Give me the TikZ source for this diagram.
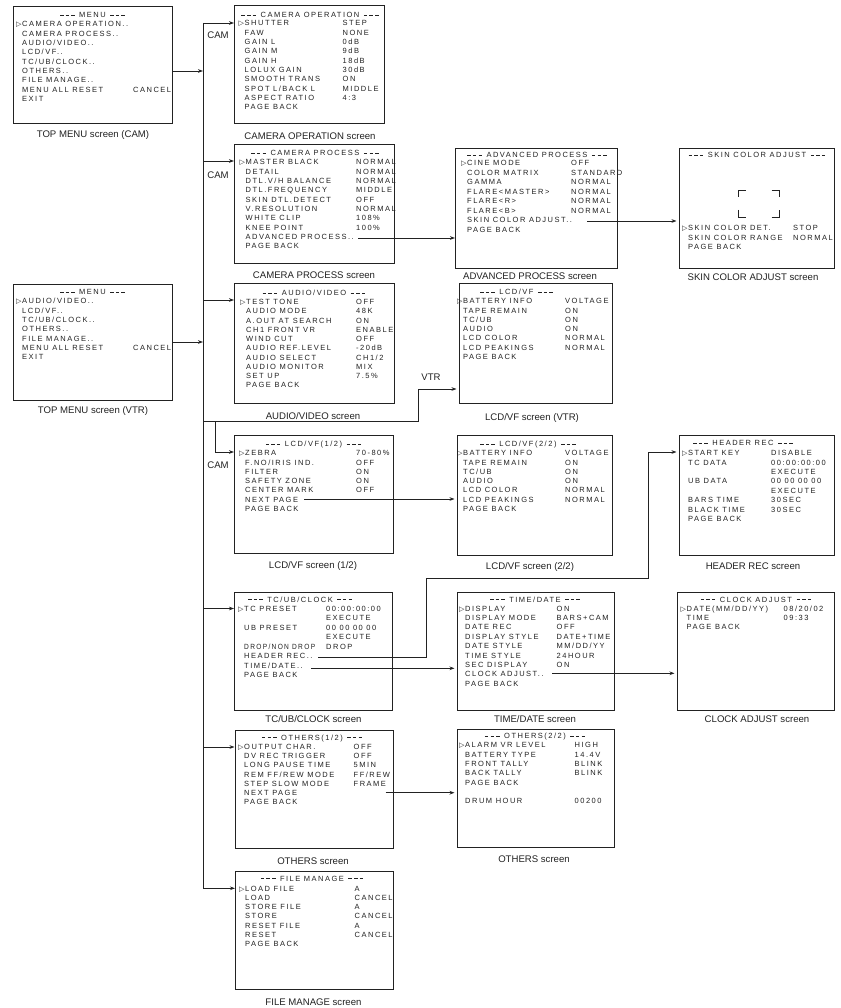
\documentclass[tikz,border=0pt]{standalone}
\usepackage{fontspec}
\usepackage{graphicx}
\setmainfont{Liberation Sans}
\newfontfamily\scrfont[LetterSpace=20]{Liberation Sans}
\newfontfamily\djv{DejaVu Sans}
\usetikzlibrary{arrows.meta,calc}
\definecolor{ink}{HTML}{222222}
\newcommand\cur{\llap{{\djv\fontsize{7}{6}\selectfont ▷}\hspace{0.6pt}}}
\newcommand\dsh{\rule[2.1pt]{3.5pt}{0.7pt}\kern2.1pt\rule[2.1pt]{3.5pt}{0.7pt}\kern2.1pt\rule[2.1pt]{3.5pt}{0.7pt}}
\newcommand\ttxt[1]{\dsh\hspace{4.5pt}#1\hspace{4.5pt}\dsh}
\newcommand\scrrows[3]{\vtop{\scrfont\fontsize{7.5}{#2}\selectfont\lineskiplimit=-20pt\def\R##1##2{\hbox{\makebox[#1][l]{##1}##2}}#3}}
\tikzset{
  scr/.style={draw=ink, line width=1.1pt, inner sep=0, anchor=north west},
  ttl/.style={anchor=base, inner sep=0, font=\scrfont\fontsize{7.5}{9}\selectfont, text=ink},
  body/.style={anchor=base west, inner sep=0, text=ink},
  captxt/.style={anchor=base, inner sep=0, font=\fontsize{9.6}{11}\selectfont, text=ink},
  con/.style={draw=ink, line width=0.8pt},
  arr/.style={con, -{Stealth[length=5pt,width=3.6pt]}},
  sarr/.style={arr, shorten >=2.5pt},
}
\begin{document}
\begin{tikzpicture}[x=1pt,y=-1pt]
\useasboundingbox[fill=white] (0,0) rectangle (840,1008);

% ---------- TOP MENU (CAM)
\node[scr, minimum width=159pt, minimum height=117pt] (topcam) at (13,6) {};
\node[ttl] (topcamT) at (92.5,17.7) {\ttxt{MENU}};
\node[body] (topcamB) at (22,26.7) {\scrrows{111pt}{9.33pt}{%
  \R{\cur CAMERA OPERATION..}{}\R{CAMERA PROCESS..}{}\R{AUDIO/VIDEO..}{}%
  \R{LCD/VF..}{}\R{TC/UB/CLOCK..}{}\R{OTHERS..}{}\R{FILE MANAGE..}{}%
  \R{MENU ALL RESET}{CANCEL}\R{EXIT}{}}};
\node[captxt] (topcamC) at (93,137.5) {TOP MENU screen (CAM)};

% ---------- CAMERA OPERATION
\node[scr, minimum width=150pt, minimum height=118pt] (camop) at (234,5) {};
\node[ttl] (camopT) at (310,17.7) {\ttxt{CAMERA OPERATION}};
\node[body] (camopB) at (244.5,26) {\scrrows{98pt}{9.33pt}{%
  \R{\cur SHUTTER}{STEP}\R{FAW}{NONE}\R{GAIN L}{0dB}\R{GAIN M}{9dB}\R{GAIN H}{18dB}%
  \R{LOLUX GAIN}{30dB}\R{SMOOTH TRANS}{ON}\R{SPOT L/BACK L}{MIDDLE}\R{ASPECT RATIO}{4:3}%
  \R{PAGE BACK}{}}};
\node[captxt] (camopC) at (310,139.5) {CAMERA OPERATION screen};

% ---------- CAMERA PROCESS
\node[scr, minimum width=160pt, minimum height=119pt] (campr) at (234,144) {};
\node[ttl] (camprT) at (315,156) {\ttxt{CAMERA PROCESS}};
\node[body] (camprB) at (245.5,165) {\scrrows{110.5pt}{9.3pt}{%
  \R{\cur MASTER BLACK}{NORMAL}\R{DETAIL}{NORMAL}\R{DTL.V/H BALANCE}{NORMAL}%
  \R{DTL.FREQUENCY}{MIDDLE}\R{SKIN DTL.DETECT}{OFF}\R{V.RESOLUTION}{NORMAL}%
  \R{WHITE CLIP}{108\%}\R{KNEE POINT}{100\%}\R{ADVANCED PROCESS..}{}\R{PAGE BACK}{}}};
\node[captxt] (camprC) at (314,278.5) {CAMERA PROCESS screen};

% ---------- ADVANCED PROCESS
\node[scr, minimum width=162pt, minimum height=120pt] (adv) at (455,148) {};
\node[ttl] (advT) at (537,157.7) {\ttxt{ADVANCED PROCESS}};
\node[body] (advB) at (467,166) {\scrrows{104pt}{9.5pt}{%
  \R{\cur CINE MODE}{OFF}\R{COLOR MATRIX}{STANDARD}\R{GAMMA}{NORMAL}%
  \R{FLARE<MASTER>}{NORMAL}\R{FLARE<R>}{NORMAL}\R{FLARE<B>}{NORMAL}%
  \R{SKIN COLOR ADJUST..}{}\R{PAGE BACK}{}}};
\node[captxt] (advC) at (530,279.5) {ADVANCED PROCESS screen};

% ---------- SKIN COLOR ADJUST
\node[scr, minimum width=155pt, minimum height=120pt] (skin) at (679,148) {};
\node[ttl] (skinT) at (757,157.7) {\ttxt{SKIN COLOR ADJUST}};
\node[body] (skinB) at (688,230.7) {\scrrows{105pt}{9.35pt}{%
  \R{\cur SKIN COLOR DET.}{STOP}\R{SKIN COLOR RANGE}{NORMAL}\R{PAGE BACK}{}}};
\node[captxt] (skinC) at (753,280.5) {SKIN COLOR ADJUST screen};
\draw[ink, line width=0.9pt] (738,197) -- (738,190) -- (746,190);
\draw[ink, line width=0.9pt] (771.5,190) -- (779.5,190) -- (779.5,197);
\draw[ink, line width=0.9pt] (738,210) -- (738,217) -- (746,217);
\draw[ink, line width=0.9pt] (771.5,217) -- (779.5,217) -- (779.5,210);

% ---------- TOP MENU (VTR)
\node[scr, minimum width=159pt, minimum height=116pt] (topvtr) at (13,284) {};
\node[ttl] (topvtrT) at (92.5,294.7) {\ttxt{MENU}};
\node[body] (topvtrB) at (22,303.7) {\scrrows{111pt}{9.33pt}{%
  \R{\cur AUDIO/VIDEO..}{}\R{LCD/VF..}{}\R{TC/UB/CLOCK..}{}\R{OTHERS..}{}%
  \R{FILE MANAGE..}{}\R{MENU ALL RESET}{CANCEL}\R{EXIT}{}}};
\node[captxt] (topvtrC) at (93,413.5) {TOP MENU screen (VTR)};

% ---------- AUDIO/VIDEO
\node[scr, minimum width=160pt, minimum height=120pt] (av) at (234,283) {};
\node[ttl] (avT) at (314,295.7) {\ttxt{AUDIO/VIDEO}};
\node[body] (avB) at (246,304.7) {\scrrows{110pt}{9.25pt}{%
  \R{\cur TEST TONE}{OFF}\R{AUDIO MODE}{48K}\R{A.OUT AT SEARCH}{ON}%
  \R{CH1 FRONT VR}{ENABLE}\R{WIND CUT}{OFF}\R{AUDIO REF.LEVEL}{-20dB}%
  \R{AUDIO SELECT}{CH1/2}\R{AUDIO MONITOR}{MIX}\R{SET UP}{7.5\%}\R{PAGE BACK}{}}};
\node[captxt] (avC) at (313,419.5) {AUDIO/VIDEO screen};

% ---------- LCD/VF (VTR)
\node[scr, minimum width=153pt, minimum height=120pt] (lcdvtr) at (459,283) {};
\node[ttl, anchor=base west] (lcdvtrT) at (480,294.7) {\ttxt{LCD/VF}};
\node[body] (lcdvtrB) at (463,303.7) {\scrrows{102pt}{9.3pt}{%
  \R{\cur BATTERY INFO}{VOLTAGE}\R{TAPE REMAIN}{ON}\R{TC/UB}{ON}\R{AUDIO}{ON}%
  \R{LCD COLOR}{NORMAL}\R{LCD PEAKINGS}{NORMAL}\R{PAGE BACK}{}}};
\node[captxt] (lcdvtrC) at (532,420.5) {LCD/VF screen (VTR)};

% ---------- LCD/VF (1/2)
\node[scr, minimum width=159pt, minimum height=118pt] (lcda) at (234,435) {};
\node[ttl] (lcdaT) at (313.5,446.7) {\ttxt{LCD/VF(1/2)}};
\node[body] (lcdaB) at (245,455.7) {\scrrows{111pt}{9.3pt}{%
  \R{\cur ZEBRA}{70-80\%}\R{F.NO/IRIS IND.}{OFF}\R{FILTER}{ON}\R{SAFETY ZONE}{ON}%
  \R{CENTER MARK}{OFF}\R{NEXT PAGE}{}\R{PAGE BACK}{}}};
\node[captxt] (lcdaC) at (313,568.5) {LCD/VF screen (1/2)};

% ---------- LCD/VF (2/2)
\node[scr, minimum width=155pt, minimum height=120pt] (lcdb) at (457,435) {};
\node[ttl, anchor=base west] (lcdbT) at (480,446.7) {\ttxt{LCD/VF(2/2)}};
\node[body] (lcdbB) at (463,455.7) {\scrrows{102pt}{9.3pt}{%
  \R{\cur BATTERY INFO}{VOLTAGE}\R{TAPE REMAIN}{ON}\R{TC/UB}{ON}\R{AUDIO}{ON}%
  \R{LCD COLOR}{NORMAL}\R{LCD PEAKINGS}{NORMAL}\R{PAGE BACK}{}}};
\node[captxt] (lcdbC) at (530,569.5) {LCD/VF screen (2/2)};

% ---------- HEADER REC
\node[scr, minimum width=155pt, minimum height=120pt] (hdr) at (679,435) {};
\node[ttl, anchor=base west] (hdrT) at (693,445.7) {\ttxt{HEADER REC}};
\node[body] (hdrB) at (688,455.7) {\scrrows{83pt}{9.4pt}{%
  \R{\cur START KEY}{DISABLE}\R{TC DATA}{00:00:00:00}\R{}{EXECUTE}%
  \R{UB DATA}{00 00 00 00}\R{}{EXECUTE}\R{BARS TIME}{30SEC}\R{BLACK TIME}{30SEC}%
  \R{PAGE BACK}{}}};
\node[captxt] (hdrC) at (753,569.5) {HEADER REC screen};

% ---------- TC/UB/CLOCK
\node[scr, minimum width=158pt, minimum height=117.5pt] (tc) at (234,592) {};
\node[ttl, anchor=base west] (tcT) at (248,602) {\ttxt{TC/UB/CLOCK}};
\node[body] (tcB) at (244,611) {\scrrows{82pt}{9.57pt}{%
  \R{\cur TC PRESET}{00:00:00:00}\R{}{EXECUTE}\R{UB PRESET}{00 00 00 00}\R{}{EXECUTE}%
  \R{\scalebox{0.88}[1]{DROP/NON DROP}}{DROP}\R{HEADER REC..}{}\R{TIME/DATE..}{}\R{PAGE BACK}{}}};
\node[captxt] (tcC) at (313.5,722.5) {TC/UB/CLOCK screen};

% ---------- TIME/DATE
\node[scr, minimum width=157pt, minimum height=117.5pt] (td) at (457,592) {};
\node[ttl] (tdT) at (535,602) {\ttxt{TIME/DATE}};
\node[body] (tdB) at (465,611) {\scrrows{91.5pt}{9.4pt}{%
  \R{\cur DISPLAY}{ON}\R{DISPLAY MODE}{BARS+CAM}\R{DATE REC}{OFF}%
  \R{DISPLAY STYLE}{DATE+TIME}\R{DATE STYLE}{MM/DD/YY}\R{TIME STYLE}{24HOUR}%
  \R{SEC DISPLAY}{ON}\R{CLOCK ADJUST..}{}\R{PAGE BACK}{}}};
\node[captxt] (tdC) at (535,722.5) {TIME/DATE screen};

% ---------- CLOCK ADJUST
\node[scr, minimum width=157pt, minimum height=117.5pt] (clk) at (677,592) {};
\node[ttl] (clkT) at (756,602) {\ttxt{CLOCK ADJUST}};
\node[body] (clkB) at (686.5,611) {\scrrows{97pt}{9.4pt}{%
  \R{\cur DATE(MM/DD/YY)}{08/20/02}\R{TIME}{09:33}\R{PAGE BACK}{}}};
\node[captxt] (clkC) at (757,722.5) {CLOCK ADJUST screen};

% ---------- OTHERS (1/2)
\node[scr, minimum width=158pt, minimum height=118pt] (otha) at (234.5,730) {};
\node[ttl] (othaT) at (312,740) {\ttxt{OTHERS(1/2)}};
\node[body] (othaB) at (244,749.4) {\scrrows{109.5pt}{9.25pt}{%
  \R{\cur OUTPUT CHAR.}{OFF}\R{DV REC TRIGGER}{OFF}\R{LONG PAUSE TIME}{5MIN}%
  \R{REM FF/REW MODE}{FF/REW}\R{STEP SLOW MODE}{FRAME}\R{NEXT PAGE}{}\R{PAGE BACK}{}}};
\node[captxt] (othaC) at (313,864) {OTHERS screen};

% ---------- OTHERS (2/2)
\node[scr, minimum width=157pt, minimum height=118pt] (othb) at (457,729) {};
\node[ttl] (othbT) at (535,738.7) {\ttxt{OTHERS(2/2)}};
\node[body] (othbB) at (465,747.7) {\scrrows{109.5pt}{9.35pt}{%
  \R{\cur ALARM VR LEVEL}{HIGH}\R{BATTERY TYPE}{14.4V}\R{FRONT TALLY}{BLINK}%
  \R{BACK TALLY}{BLINK}\R{PAGE BACK}{}\R{}{}\R{DRUM HOUR}{00200}}};
\node[captxt] (othbC) at (534,862.5) {OTHERS screen};

% ---------- FILE MANAGE
\node[scr, minimum width=158pt, minimum height=118pt] (fm) at (235,871) {};
\node[ttl] (fmT) at (312,881) {\ttxt{FILE MANAGE}};
\node[body] (fmB) at (245,891) {\scrrows{109.5pt}{9.3pt}{%
  \R{\cur LOAD FILE}{A}\R{LOAD}{CANCEL}\R{STORE FILE}{A}\R{STORE}{CANCEL}%
  \R{RESET FILE}{A}\R{RESET}{CANCEL}\R{PAGE BACK}{}}};
\node[captxt] (fmC) at (313.5,1005) {FILE MANAGE screen};

% ---------- labels
\node[captxt] (cam1) at (218,38.5) {CAM};
\node[captxt] (cam2) at (218,178.5) {CAM};
\node[captxt] (cam3) at (218,468.5) {CAM};
\node[captxt] (vtr) at (431,380.5) {VTR};

% ---------- trunk and connectors
\coordinate (tTop) at (203,23);
\coordinate (tCam) at (203,71);
\coordinate (tCp) at (203,161);
\coordinate (tAv) at (203,300);
\coordinate (tVtr) at (203,342);
\coordinate (tLcd) at (203,421);
\coordinate (tTc) at (203,608.5);
\coordinate (tOth) at (203,747);
\coordinate (tFm) at (203,888.3);
\draw[con] (tTop) -- (tFm);
\draw[arr] (topcam.east |- tCam) -- (tCam);
\draw[arr] (topvtr.east |- tVtr) -- (tVtr);
\draw[arr] (tTop) -- (tTop -| camop.west);
\draw[arr] (tCp) -- (tCp -| campr.west);
\draw[arr] (tAv) -- (tAv -| av.west);
\draw[arr] (tTc) -- (tTc -| tc.west);
\draw[arr] (tOth) -- (tOth -| otha.west);
\draw[arr] (tFm) -- (tFm -| fm.west);

\coordinate (vtrBend) at (418,421);
\coordinate (vtrIn) at (418,389);
\draw[sarr] (tLcd) -- (vtrBend) -- (vtrIn) -- (vtrIn -| lcdvtr.west);
\coordinate (lcdSplit) at (215,421);
\coordinate (lcdIn) at (215,452);
\draw[arr] (lcdSplit) -- (lcdIn) -- (lcdIn -| lcda.west);

\coordinate (advOut) at (358,238);
\draw[arr] (advOut) -- (advOut -| adv.west);
\coordinate (skinOut) at (587,221);
\draw[sarr] (skinOut) -- (skinOut -| skin.west);
\coordinate (lcdNext) at (304,499);
\draw[sarr] (lcdNext) -- (lcdNext -| lcdb.west);
\coordinate (hdrOut) at (318,657.7);
\coordinate (hdrA) at (426,657.7);
\coordinate (hdrB) at (426,578);
\coordinate (hdrC) at (648,578);
\coordinate (hdrD) at (648,452);
\draw[sarr] (hdrOut) -- (hdrA) -- (hdrB) -- (hdrC) -- (hdrD) -- (hdrD -| hdr.west);
\coordinate (tdOut) at (311,668.3);
\draw[sarr] (tdOut) -- (tdOut -| td.west);
\coordinate (clkOut) at (552,673.3);
\draw[sarr] (clkOut) -- (clkOut -| clk.west);
\coordinate (othNext) at (385.5,792.7);
\draw[sarr] (othNext) -- (othNext -| othb.west);
\end{tikzpicture}
\end{document}
